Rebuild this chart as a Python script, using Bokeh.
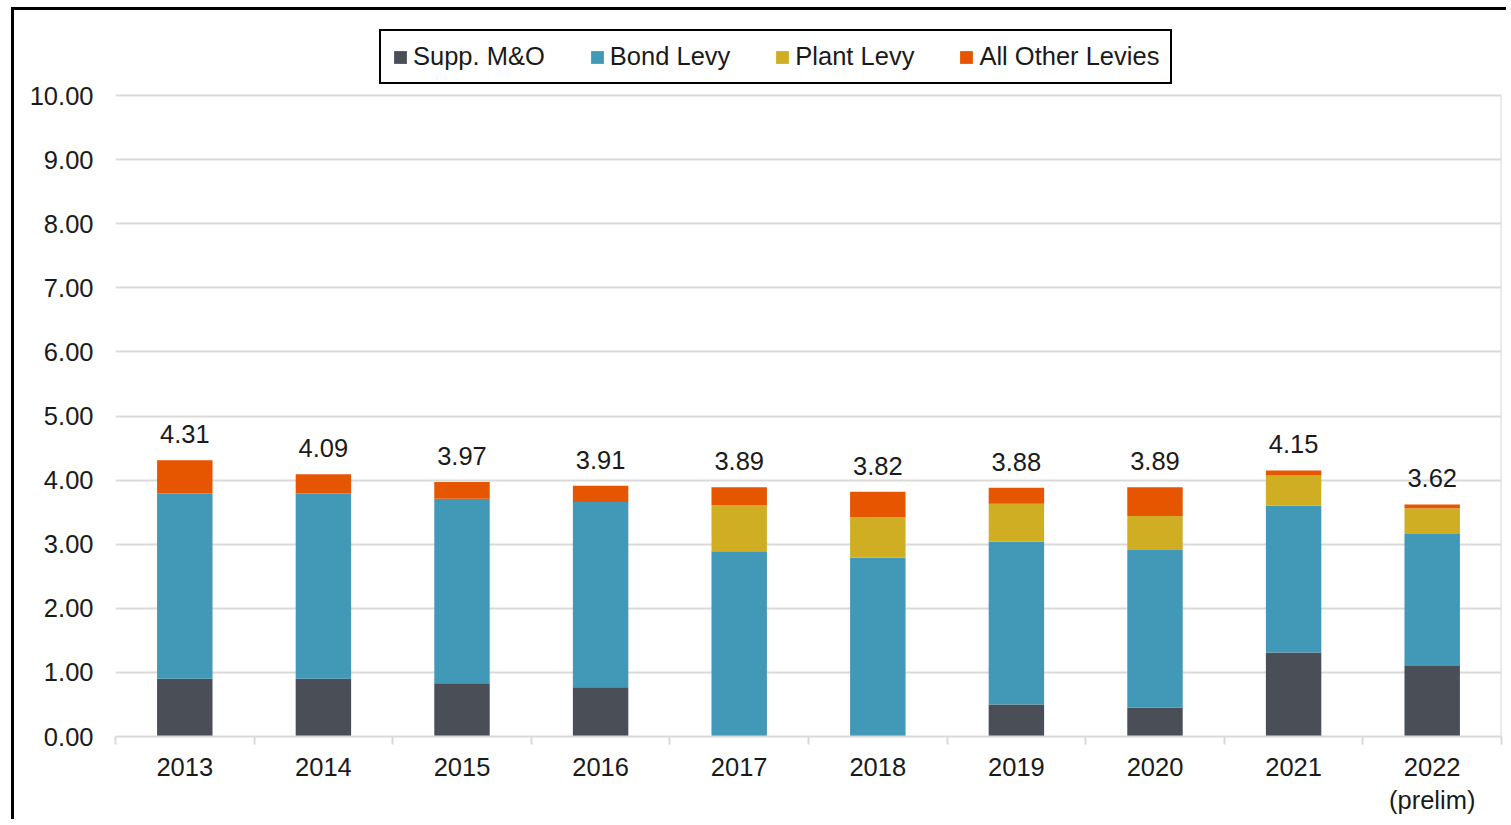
from bokeh.plotting import figure
from bokeh.models import (Range1d, LinearAxis, FixedTicker, Legend, LegendItem, LabelSet,
                          ColumnDataSource, NumeralTickFormatter)
from bokeh.core.properties import value
from bokeh.embed import file_html
from bokeh.resources import INLINE

# ---- data ----
years = ["2013", "2014", "2015", "2016", "2017", "2018", "2019", "2020", "2021", "2022"]
year_labels = ["2013", "2014", "2015", "2016", "2017", "2018", "2019", "2020", "2021", "2022\n(prelim)"]
supp_mo = [0.90, 0.90, 0.83, 0.77, 0.00, 0.00, 0.50, 0.45, 1.31, 1.10]
bond_levy = [2.89, 2.89, 2.88, 2.89, 2.89, 2.79, 2.54, 2.46, 2.29, 2.06]
plant_levy = [0.00, 0.00, 0.00, 0.00, 0.72, 0.63, 0.59, 0.53, 0.47, 0.40]
other_levies = [0.52, 0.30, 0.26, 0.25, 0.28, 0.40, 0.25, 0.45, 0.08, 0.06]
totals = [4.31, 4.09, 3.97, 3.91, 3.89, 3.82, 3.88, 3.89, 4.15, 3.62]
total_labels = ["4.31", "4.09", "3.97", "3.91", "3.89", "3.82", "3.88", "3.89", "4.15", "3.62"]
series_names = ["Supp. M&O", "Bond Levy", "Plant Levy", "All Other Levies"]
series_colors = ["#4a4f57", "#4298b7", "#cfae24", "#e65500"]
y_ticks = [0, 1, 2, 3, 4, 5, 6, 7, 8, 9, 10]

FONT = "Liberation Sans"
FS = "25.5px"
TXT = "#1a1a1a"
GRID = "#d9d9d9"

n = len(years)
centers = [i + 0.5 for i in range(n)]      # category slot centers on the x scale
bounds = list(range(n + 1))                 # category slot boundaries
y_top = y_ticks[-1] * 716 / 641             # headroom above the 10.00 line for the legend

src = ColumnDataSource(dict(x=centers, mo=supp_mo, bond=bond_levy, plant=plant_levy,
                            other=other_levies, total=totals, label=total_labels))

p = figure(x_range=Range1d(0, n), y_range=Range1d(0, y_top),
           width=1495, height=812, output_backend="svg", toolbar_location=None,
           x_axis_location=None, y_axis_location="left",
           min_border_left=101, min_border_right=8, min_border_top=10, min_border_bottom=86)
p.styles = {"border-left": "3px solid black", "border-top": "3px solid black"}
p.margin = (7, 0, 0, 11)
p.outline_line_color = None
p.background_fill_color = "white"

renderers = p.vbar_stack(["mo", "bond", "plant", "other"], x="x", width=0.4,
                         color=series_colors, line_width=0, source=src)

# value labels
labels = LabelSet(x="x", y="total", text="label", source=src, text_align="center",
                  text_baseline="bottom", y_offset=17, text_font=value(FONT),
                  text_font_size=value(FS), text_color=TXT)
p.add_layout(labels)

# y axis
yax = p.yaxis[0]
yax.ticker = FixedTicker(ticks=y_ticks)
yax.formatter = NumeralTickFormatter(format="0.00")
yax.axis_line_color = None
yax.major_tick_line_color = None
yax.major_tick_out = 0
yax.major_tick_in = 0
yax.minor_tick_line_color = None
yax.minor_tick_out = 0
yax.major_label_standoff = 22
yax.major_label_text_font = FONT
yax.major_label_text_font_size = FS
yax.major_label_text_color = TXT

p.ygrid.grid_line_color = GRID
p.ygrid.grid_line_width = 2
p.xgrid.grid_line_color = None

# right edge line of the plot area (from 0 to the top gridline)
p.segment(x0=[n], y0=[y_ticks[0]], x1=[n], y1=[y_ticks[-1]], line_color=GRID, line_width=2)

# tick marks at category boundaries (no labels)
tick_axis = LinearAxis(ticker=FixedTicker(ticks=bounds),
                       major_label_overrides={b: "" for b in bounds},
                       major_label_text_font_size="8px",
                       axis_line_color=GRID, axis_line_width=2,
                       major_tick_line_color=GRID, major_tick_line_width=2,
                       major_tick_out=8, major_tick_in=0, minor_tick_line_color=None,
                       minor_tick_out=0, major_label_standoff=0)
p.add_layout(tick_axis, "below")

# category labels at slot centers
cat_axis = LinearAxis(ticker=FixedTicker(ticks=centers),
                      major_label_overrides={c: lab for c, lab in zip(centers, year_labels)},
                      axis_line_color=None, major_tick_line_color=None, minor_tick_line_color=None,
                      major_tick_out=0, minor_tick_out=0,
                      major_label_text_font=FONT, major_label_text_font_size=FS,
                      major_label_text_color=TXT, major_label_standoff=8)
p.add_layout(cat_axis, "below")

legend = Legend(items=[LegendItem(label=nm, renderers=[r]) for nm, r in zip(series_names, renderers)],
                orientation="horizontal", location=(264, 652),
                glyph_width=16, glyph_height=16, label_standoff=5, spacing=44,
                padding=11, margin=0, border_line_color="black", border_line_width=2,
                border_line_alpha=1,
                label_text_font=FONT, label_text_font_size=FS, label_text_color=TXT,
                background_fill_alpha=1)
p.add_layout(legend, "center")

open("out.html", "w").write(file_html(p, INLINE))
